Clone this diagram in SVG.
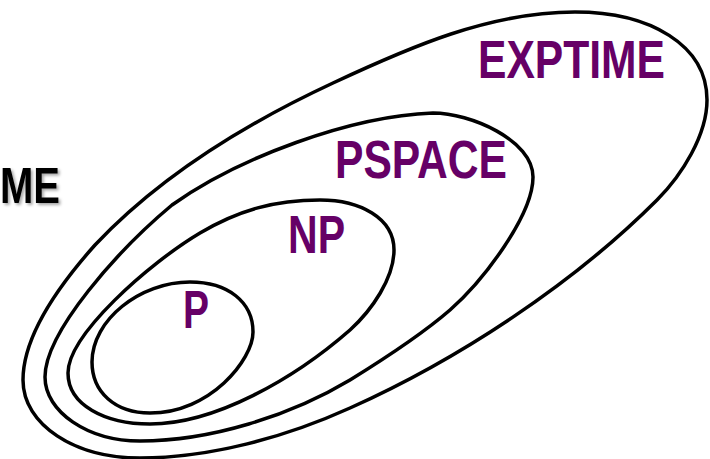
<svg xmlns="http://www.w3.org/2000/svg" width="710" height="459" viewBox="0 0 710 459">
<style>
.set{fill:none;stroke:#000;stroke-width:3.5;stroke-linejoin:round}
.lbl{font-family:"Liberation Sans",Arial,sans-serif;font-weight:bold;font-size:53px;fill:#660066}
.me{font-family:"Liberation Sans",Arial,sans-serif;font-weight:bold;font-size:50px;fill:#000}
</style>
<defs>
<filter id="sh" x="-20%" y="-20%" width="140%" height="140%">
<feDropShadow dx="2" dy="2" stdDeviation="1.5" flood-color="#000" flood-opacity="0.35"/>
</filter>
</defs>
<rect width="710" height="459" fill="#fff"/>
<g id="me-label">
<text class="me" x="0" y="203" textLength="60" lengthAdjust="spacingAndGlyphs" filter="url(#sh)">ME</text>
</g>
<g id="exptime">
<path class="set" d="M575,12 C650,12 707,45 707,100 C707,135 682,175 657,200 C573,284 459,359 350,408 C286,437 210,458 140,458 C75,458 23,425 23,380 C23,333 62,282 95,245 C160,176 247,123 333,83 C410,47 490,12 575,12 Z"/>
<text class="lbl" x="478" y="78" textLength="187" lengthAdjust="spacingAndGlyphs">EXPTIME</text>
</g>
<g id="pspace">
<path class="set" d="M433,113 C470,113 533,140 533,177 C533,215 484,280 450,310 C420,336 384,359 350,380 C290,416 210,441 140,441 C88,441 45,412 45,377 C45,332 118,250 172,205 C238,158 350,116 433,113 Z"/>
<text class="lbl" x="335" y="178" textLength="172" lengthAdjust="spacingAndGlyphs">PSPACE</text>
</g>
<g id="np">
<path class="set" d="M320,200 C360,200 394,218 394,250 C394,278 372,310 350,330 C294,379 215,424 150,424 C105,424 68,405 68,373 C68,335 148,264 200,233 C239,210 275,200 320,200 Z"/>
<text class="lbl" x="288" y="253" textLength="57" lengthAdjust="spacingAndGlyphs">NP</text>
</g>
<g id="p">
<path class="set" d="M190,282 C228,282 253,302 253,332 C253,360 210,413 150,413 C115,413 92,392 92,362 C92,320 140,282 190,282 Z"/>
<text class="lbl" x="183" y="328" textLength="26" lengthAdjust="spacingAndGlyphs">P</text>
</g>
<g id="connectors"/>
</svg>
